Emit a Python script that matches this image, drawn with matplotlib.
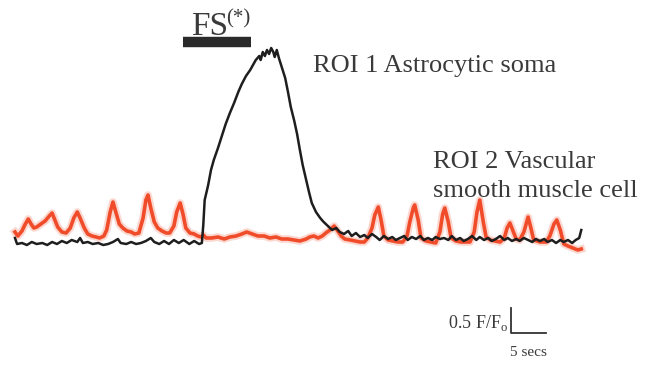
#!/usr/bin/env python3
"""Calcium traces: astrocytic soma vs vascular smooth muscle cell during FS."""
import matplotlib
matplotlib.use("Agg")
import matplotlib.pyplot as plt

# ROI 1, astrocytic soma (time in s, dF in F/F0)
soma_t = [0.0, 0.3, 1.0, 1.7, 2.4, 3.1, 3.9, 4.6, 5.3, 6.0, 6.7, 7.4, 8.1, 8.9,
          9.3, 9.7, 10.4, 11.1, 11.9, 12.6, 13.3, 14.0, 14.7, 15.1, 15.9, 16.6,
          17.3, 18.0, 18.7, 19.4, 19.9, 20.6, 21.3, 22.0, 22.7, 23.4, 24.1, 24.9,
          25.6, 26.3, 26.7, 26.9, 27.1, 27.6, 28.0, 28.4, 29.0, 29.6, 30.1, 30.7,
          31.3, 31.9, 32.4, 33.0, 33.6, 34.0, 34.4, 34.9, 35.1, 35.4, 35.7, 36.0,
          36.3, 36.6, 36.9, 37.1, 37.4, 37.7, 38.1, 38.6, 39.0, 39.4, 39.9, 40.3,
          40.7, 41.1, 41.6, 42.0, 42.4, 43.0, 43.6, 44.1, 44.7, 45.3, 45.9, 46.4,
          47.0, 47.6, 48.1, 48.7, 49.3, 49.9, 50.4, 51.0, 51.6, 52.1, 52.7, 53.3,
          53.9, 54.4, 55.0, 55.6, 56.1, 56.7, 57.3, 57.9, 58.4, 59.0, 59.6, 60.1,
          60.7, 61.3, 61.9, 62.4, 63.0, 63.6, 64.1, 64.7, 65.3, 65.9, 66.4, 67.0,
          67.6, 68.1, 68.7, 69.3, 69.9, 70.4, 71.0, 71.6, 72.1, 72.7, 73.3, 73.9,
          74.4, 75.0, 75.6, 76.1, 76.7, 77.3, 77.9, 78.4, 79.0, 79.6, 80.1, 80.6,
          80.9]
soma_f = [0.08, -0.04, -0.02, -0.06, 0.00, -0.04, -0.02, -0.06, 0.00, -0.04,
          0.02, -0.02, 0.04, 0.00, 0.08, -0.02, 0.00, -0.04, -0.02, -0.06, -0.04,
          0.00, 0.06, -0.02, -0.04, 0.00, -0.04, -0.02, 0.02, 0.08, 0.00, -0.04,
          0.02, -0.04, 0.04, -0.02, 0.04, -0.04, 0.02, -0.04, -0.02, 0.34, 0.84,
          1.14, 1.44, 1.64, 1.88, 2.14, 2.36, 2.58, 2.78, 3.00, 3.16, 3.32, 3.44,
          3.54, 3.64, 3.72, 3.64, 3.80, 3.72, 3.84, 3.76, 3.88, 3.80, 3.70, 3.84,
          3.68, 3.50, 3.28, 3.00, 2.70, 2.42, 2.16, 1.84, 1.54, 1.24, 1.00, 0.78,
          0.60, 0.48, 0.40, 0.32, 0.24, 0.28, 0.20, 0.16, 0.22, 0.12, 0.18, 0.10,
          0.14, 0.08, 0.16, 0.10, 0.04, 0.12, 0.06, 0.10, 0.04, 0.08, 0.12, 0.04,
          0.10, 0.06, 0.12, 0.04, 0.08, 0.04, 0.10, 0.06, 0.08, 0.04, 0.12, 0.04,
          0.08, 0.02, 0.06, 0.12, 0.04, 0.10, 0.04, 0.08, 0.02, 0.06, 0.12, 0.04,
          0.08, 0.02, 0.06, 0.02, 0.08, 0.04, 0.00, 0.06, 0.02, 0.06, 0.00, 0.04,
          -0.02, 0.04, 0.00, 0.04, -0.02, 0.04, 0.08, 0.24]

# ROI 2, vascular smooth muscle cell
vsmc_t = [0.0, 0.4, 1.0, 1.4, 1.9, 2.3, 2.7, 3.1, 3.7, 4.3, 4.9, 5.3, 5.7, 6.1,
          6.7, 7.3, 7.9, 8.4, 8.9, 9.3, 9.9, 10.4, 11.0, 11.6, 12.1, 12.7, 13.1,
          13.6, 14.0, 14.4, 14.9, 15.4, 16.0, 16.6, 17.1, 17.7, 18.3, 18.7, 19.0,
          19.4, 19.9, 20.4, 21.0, 21.6, 22.1, 22.7, 23.1, 23.6, 24.0, 24.4, 25.0,
          25.6, 26.1, 26.6, 26.9, 27.3, 28.1, 29.0, 29.9, 30.7, 31.6, 32.4, 33.1,
          33.9, 34.7, 35.6, 36.4, 37.3, 38.1, 39.0, 39.9, 40.7, 41.6, 42.1, 42.7,
          43.3, 43.9, 44.4, 45.0, 45.6, 46.0, 46.6, 47.1, 47.9, 48.6, 49.3, 49.9,
          50.4, 51.0, 51.4, 51.9, 52.3, 52.7, 53.3, 54.0, 54.7, 55.4, 56.0, 56.4,
          56.9, 57.1, 57.6, 58.0, 58.7, 59.4, 60.1, 60.7, 61.1, 61.4, 61.9, 62.3,
          63.0, 63.7, 64.4, 65.0, 65.6, 66.0, 66.4, 66.9, 67.3, 67.9, 68.6, 69.3,
          69.9, 70.3, 70.7, 71.1, 71.6, 72.1, 72.7, 73.3, 73.7, 74.1, 75.0, 75.9,
          76.4, 77.0, 77.4, 77.9, 78.4, 79.0, 79.7, 80.4, 80.9]
vsmc_f = [0.20, 0.12, 0.22, 0.34, 0.46, 0.36, 0.28, 0.30, 0.36, 0.42, 0.52, 0.58,
          0.44, 0.30, 0.20, 0.18, 0.28, 0.48, 0.60, 0.48, 0.28, 0.16, 0.12, 0.10,
          0.08, 0.12, 0.24, 0.60, 0.80, 0.60, 0.36, 0.28, 0.22, 0.20, 0.16, 0.18,
          0.48, 0.84, 0.94, 0.68, 0.40, 0.28, 0.22, 0.18, 0.18, 0.32, 0.60, 0.78,
          0.56, 0.28, 0.18, 0.16, 0.12, 0.10, 0.14, 0.08, 0.08, 0.10, 0.06, 0.10,
          0.12, 0.16, 0.20, 0.16, 0.12, 0.12, 0.08, 0.10, 0.06, 0.06, 0.04, 0.02,
          0.06, 0.10, 0.12, 0.08, 0.12, 0.18, 0.24, 0.32, 0.24, 0.12, 0.06, 0.04,
          0.02, 0.00, 0.00, 0.08, 0.28, 0.54, 0.70, 0.44, 0.12, 0.04, 0.02, 0.00,
          0.00, 0.12, 0.40, 0.68, 0.74, 0.44, 0.08, 0.02, 0.00, -0.02, 0.20, 0.56,
          0.68, 0.40, 0.08, 0.02, 0.00, 0.00, 0.00, 0.20, 0.60, 0.84, 0.40, 0.10,
          0.04, 0.02, 0.00, 0.08, 0.28, 0.38, 0.24, 0.06, 0.04, 0.20, 0.50, 0.28,
          0.04, 0.00, 0.00, 0.12, 0.36, 0.44, 0.24, -0.04, -0.08, -0.12, -0.16,
          -0.14]

# stimulus window (s) and scale bar sizes
fs_on, fs_off = 24.0, 33.7
bar_sec, bar_df = 5, 0.5

plt.rcParams["font.family"] = ["Liberation Serif", "DejaVu Serif"]
plt.rcParams["mathtext.fontset"] = "custom"
plt.rcParams["mathtext.rm"] = "Liberation Serif"

fig = plt.figure(figsize=(6.55, 3.67), dpi=100)
ax = fig.add_axes([0, 0, 1, 1])
ax.set_xlim(-2.14, 91.43)
ax.set_ylim(-2.5, 4.84)
ax.axis("off")

red = "#f04c2a"
ax.plot(vsmc_t, vsmc_f, color=red, lw=5.5, alpha=0.22, solid_joinstyle="round")
ax.plot(vsmc_t, vsmc_f, color=red, lw=2.6, solid_joinstyle="round")
ax.plot(soma_t, soma_f, color="#1e1e1e", lw=1.8)

txt = "#3a3a3a"
# stimulus bar
ax.plot([fs_on, fs_off], [4.0, 4.0], color="#2a2a2a", lw=7.5, solid_capstyle="butt")
ax.text(fs_on + 1.1, 4.14, "FS", fontsize=24, color=txt, ha="left", va="baseline")
ax.text(fs_on + 6.2, 4.37, "(*)", fontsize=15, color=txt, ha="left", va="baseline")

ax.text(42.6, 3.40, "ROI 1 Astrocytic soma", fontsize=19, color=txt,
        ha="left", va="baseline")
ax.text(59.7, 1.48, "ROI 2 Vascular", fontsize=19, color=txt,
        ha="left", va="baseline")
ax.text(59.7, 0.90, "smooth muscle cell", fontsize=19, color=txt,
        ha="left", va="baseline")

# scale bar
sx, sy = 70.9, -1.82
ax.plot([sx, sx, sx + bar_sec], [sy + bar_df, sy, sy], color="#333333", lw=1.3)
ax.text(sx - 0.5, sy + 0.2, r"0.5 F/F$_\mathrm{o}$", fontsize=13, color=txt,
        ha="right", va="center")
ax.text(sx + bar_sec / 2, sy - 0.38, "5 secs", fontsize=11, color=txt,
        ha="center", va="center")

fig.savefig("out.png", dpi=100)
